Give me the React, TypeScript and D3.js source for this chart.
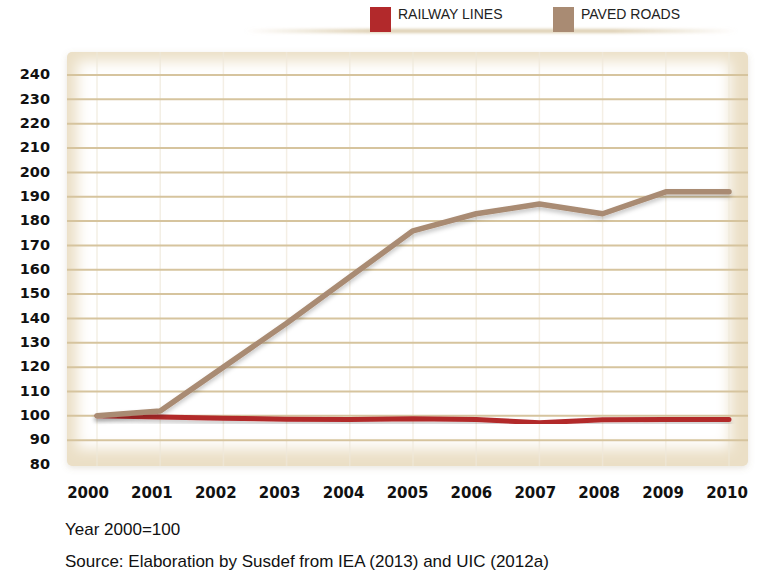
import React from "react";
import * as d3 from "d3";

const years = [2000, 2001, 2002, 2003, 2004, 2005, 2006, 2007, 2008, 2009, 2010];
const pavedRoads = [100, 102, 120, 138, 157, 176, 183, 187, 183, 192, 192];
const railwayLines = [100, 99.5, 99, 98.6, 98.5, 98.8, 98.5, 97.2, 98.4, 98.5, 98.5];
const yTicks = [90, 100, 110, 120, 130, 140, 150, 160, 170, 180, 190, 200, 210, 220, 230, 240];
const yLabels = [80, 90, 100, 110, 120, 130, 140, 150, 160, 170, 180, 190, 200, 210, 220, 230, 240];
const seriesNames = ["RAILWAY LINES", "PAVED ROADS"];
const seriesColors = ["#b2292b", "#a98b73"];
const noteText = "Year 2000=100";
const sourceText = "Source: Elaboration by Susdef from IEA (2013) and UIC (2012a)";

export default function App() {
  const W = 760, H = 572;
  const panel = { x0: 67, x1: 748, y0: 52, y1: 466 };
  const x = d3.scaleLinear().domain([2000, 2010]).range([97, 729]);
  const xLab = d3.scaleLinear().domain([2000, 2010]).range([88, 727]);
  const y = d3.scaleLinear().domain([80, 240]).range([464.5, 75]);
  const line = d3.line<number>().x((_, i) => x(years[i])).y((d) => y(d)).curve(d3.curveLinear);
  const series = [railwayLines, pavedRoads];
  const font = "'Liberation Sans', Arial, sans-serif";
  const boldFont = "'DejaVu Sans', sans-serif";

  return (
    <svg width={W} height={H} style={{ position: "absolute", left: 0, top: 0, background: "#fff" }}>
      <defs>
        <filter id="blurIn" x="-10%" y="-10%" width="120%" height="120%">
          <feGaussianBlur stdDeviation="7" />
        </filter>
        <filter id="lineShadow" x="-5%" y="-20%" width="110%" height="140%">
          <feDropShadow dx="0" dy="3" stdDeviation="2" floodColor="#000" floodOpacity="0.22" />
        </filter>
        <filter id="panelShadow" x="-5%" y="-5%" width="110%" height="110%">
          <feDropShadow dx="0" dy="2" stdDeviation="3" floodColor="#8a7a5a" floodOpacity="0.2" />
        </filter>
        <linearGradient id="legendShade" x1="0" x2="1" y1="0" y2="0">
          <stop offset="0" stopColor="#d9c9a8" stopOpacity="0" />
          <stop offset="0.25" stopColor="#d9c9a8" stopOpacity="0.9" />
          <stop offset="0.75" stopColor="#d9c9a8" stopOpacity="0.9" />
          <stop offset="1" stopColor="#d9c9a8" stopOpacity="0" />
        </linearGradient>
        <filter id="softBlur" x="-5%" y="-200%" width="110%" height="500%">
          <feGaussianBlur stdDeviation="1.5" />
        </filter>
        <clipPath id="panelClip">
          <rect x={panel.x0} y={panel.y0} width={panel.x1 - panel.x0} height={panel.y1 - panel.y0} rx={5} />
        </clipPath>
      </defs>

      {/* legend */}
      <rect x={245} y={29} width={492} height={4} fill="url(#legendShade)" filter="url(#softBlur)" />
      {seriesNames.map((name, i) => {
        const lx = i === 0 ? 370 : 553;
        return (
          <g key={name}>
            <rect x={lx} y={7} width={21} height={25} fill={seriesColors[i]} />
            <text x={lx + 28} y={19} fontFamily={font} fontSize={14} fill="#222">{name}</text>
          </g>
        );
      })}

      {/* panel */}
      <rect x={panel.x0} y={panel.y0} width={panel.x1 - panel.x0} height={panel.y1 - panel.y0} rx={5}
        fill="#ebdfc6" filter="url(#panelShadow)" />
      <g clipPath="url(#panelClip)">
        <rect x={panel.x0 + 10} y={panel.y0 + 9} width={panel.x1 - panel.x0 - 28} height={panel.y1 - panel.y0 - 26}
          fill="#ffffff" filter="url(#blurIn)" />
        {years.map((yr) => (
          <line key={yr} x1={x(yr)} x2={x(yr)} y1={panel.y0} y2={panel.y1} stroke="#efe8da" strokeWidth={1.5} opacity={0.7} />
        ))}
        {yTicks.map((t) => (
          <line key={t} x1={panel.x0} x2={panel.x1} y1={y(t)} y2={y(t)} stroke="#d6c49e" strokeWidth={2} />
        ))}
      </g>

      {/* lines */}
      {series.map((s, i) => (
        <path key={i} d={line(s) || ""} fill="none" stroke={seriesColors[i]} strokeWidth={i === 0 ? 5 : 5.5}
          strokeLinecap="round" strokeLinejoin="round" filter="url(#lineShadow)" />
      ))}

      {/* y labels */}
      {yLabels.map((t) => (
        <text key={t} x={50} y={y(t) - 1} dy="0.36em" textAnchor="end" fontFamily={boldFont} fontWeight="bold"
          fontSize={14.5} fill="#111">{t}</text>
      ))}

      {/* x labels */}
      {years.map((yr) => (
        <text key={yr} x={xLab(yr)} y={498} textAnchor="middle" fontFamily={boldFont} fontWeight="bold"
          fontSize={15} fill="#111">{yr}</text>
      ))}

      <text x={65} y={535} fontFamily={font} fontSize={17} fill="#111">{noteText}</text>
      <text x={65} y={567} fontFamily={font} fontSize={17} fill="#111">{sourceText}</text>
    </svg>
  );
}
